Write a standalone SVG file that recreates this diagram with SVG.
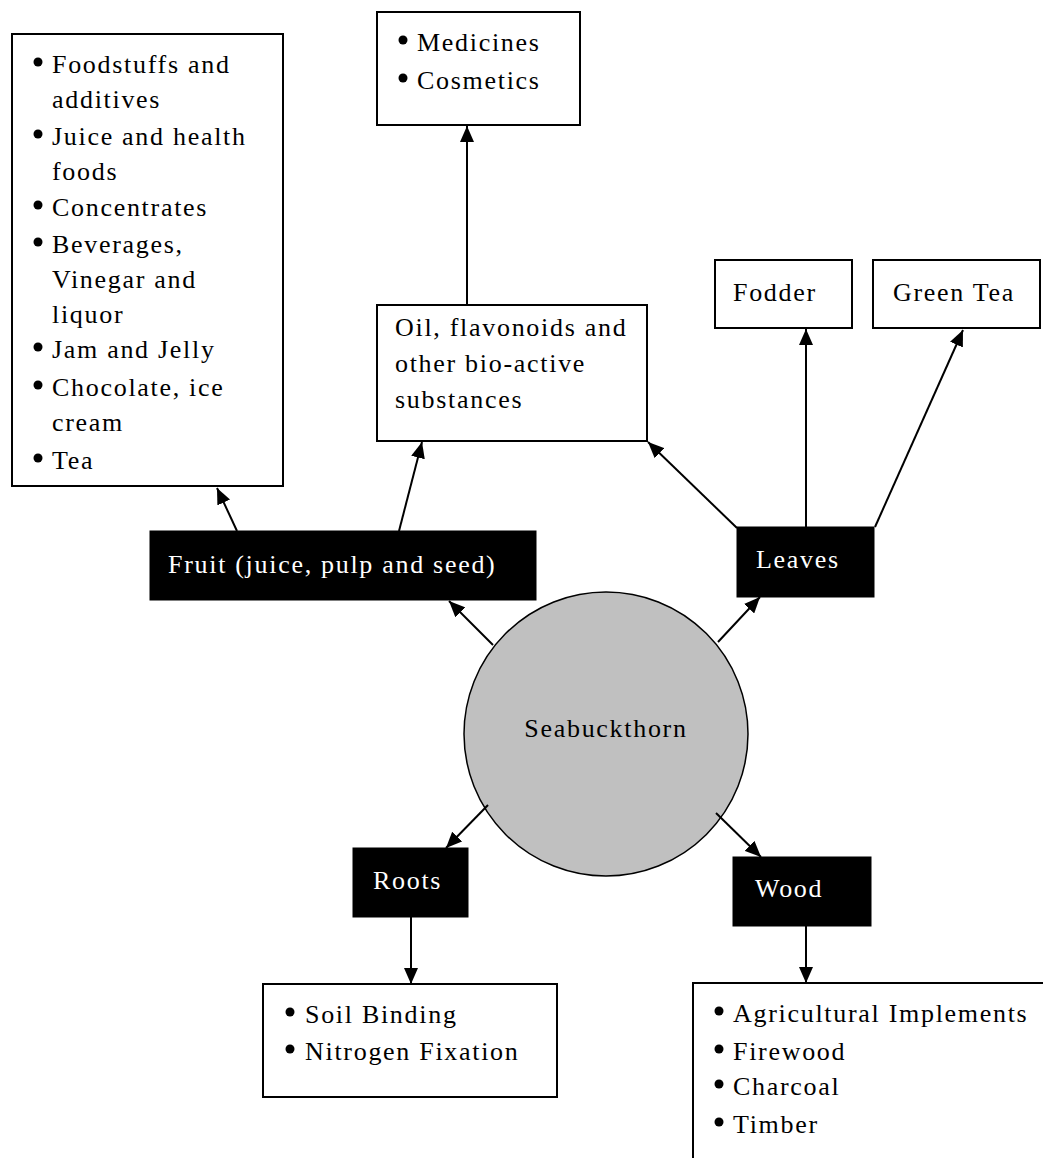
<svg xmlns="http://www.w3.org/2000/svg" width="1043" height="1158" viewBox="0 0 1043 1158">
<defs>
<marker id="arr" markerUnits="userSpaceOnUse" markerWidth="16" markerHeight="14" viewBox="0 0 16 14" refX="16" refY="7" orient="auto">
<path d="M0,0 L16,7 L0,14 Z" fill="#000"/>
</marker>
<style>
.box{fill:#fff;stroke:#000;stroke-width:2}
.dark{fill:#000;stroke:#000;stroke-width:1}
.t{font-family:"Liberation Serif","Times New Roman",serif;font-size:26px;letter-spacing:1.7px;fill:#000}
.w{fill:#fff}
.conn line{stroke:#000;stroke-width:2;marker-end:url(#arr)}
.b{fill:#000}
</style>
</defs>
<rect width="1043" height="1158" fill="#fff"/>

<g id="fruit-uses">
<rect class="box" x="12" y="34" width="271" height="452"/>
<circle class="b" cx="38" cy="62" r="4.5"/>
<text class="t" x="52" y="73">Foodstuffs and</text>
<text class="t" x="52" y="108">additives</text>
<circle class="b" cx="38" cy="134" r="4.5"/>
<text class="t" x="52" y="145">Juice and health</text>
<text class="t" x="52" y="180">foods</text>
<circle class="b" cx="38" cy="205" r="4.5"/>
<text class="t" x="52" y="216">Concentrates</text>
<circle class="b" cx="38" cy="242" r="4.5"/>
<text class="t" x="52" y="253">Beverages,</text>
<text class="t" x="52" y="288">Vinegar and</text>
<text class="t" x="52" y="323">liquor</text>
<circle class="b" cx="38" cy="347" r="4.5"/>
<text class="t" x="52" y="358">Jam and Jelly</text>
<circle class="b" cx="38" cy="385" r="4.5"/>
<text class="t" x="52" y="396">Chocolate, ice</text>
<text class="t" x="52" y="431">cream</text>
<circle class="b" cx="38" cy="458" r="4.5"/>
<text class="t" x="52" y="469">Tea</text>
</g>

<g id="medicines">
<rect class="box" x="377" y="12" width="203" height="113"/>
<circle class="b" cx="403" cy="40" r="4.5"/>
<text class="t" x="417" y="51">Medicines</text>
<circle class="b" cx="403" cy="78" r="4.5"/>
<text class="t" x="417" y="89">Cosmetics</text>
</g>

<g id="oil">
<rect class="box" x="377" y="305" width="270" height="136"/>
<text class="t" x="395" y="336">Oil, flavonoids and</text>
<text class="t" x="395" y="372">other bio-active</text>
<text class="t" x="395" y="408">substances</text>
</g>

<g id="fodder">
<rect class="box" x="715" y="260" width="137" height="68"/>
<text class="t" x="733" y="301">Fodder</text>
</g>

<g id="green-tea">
<rect class="box" x="873" y="260" width="167" height="68"/>
<text class="t" x="893" y="301">Green Tea</text>
</g>

<g id="fruit">
<rect class="dark" x="150" y="531" width="386" height="69"/>
<text class="t w" x="168" y="573">Fruit (juice, pulp and seed)</text>
</g>

<g id="leaves">
<rect class="dark" x="737" y="527" width="137" height="70"/>
<text class="t w" x="756" y="568">Leaves</text>
</g>

<g id="seabuckthorn">
<circle cx="606" cy="734" r="142" fill="#c0c0c0" stroke="#000" stroke-width="1.5"/>
<text class="t" x="606" y="737" text-anchor="middle">Seabuckthorn</text>
</g>

<g id="roots">
<rect class="dark" x="353" y="848" width="115" height="69"/>
<text class="t w" x="373" y="889">Roots</text>
</g>

<g id="wood">
<rect class="dark" x="733" y="857" width="138" height="69"/>
<text class="t w" x="755" y="897">Wood</text>
</g>

<g id="root-uses">
<rect class="box" x="263" y="984" width="294" height="113"/>
<circle class="b" cx="290" cy="1012" r="4.5"/>
<text class="t" x="305" y="1023">Soil Binding</text>
<circle class="b" cx="290" cy="1049" r="4.5"/>
<text class="t" x="305" y="1060">Nitrogen Fixation</text>
</g>

<g id="wood-uses">
<rect class="box" x="693" y="983" width="360" height="190"/>
<circle class="b" cx="719" cy="1011" r="4.5"/>
<text class="t" x="733" y="1022">Agricultural Implements</text>
<circle class="b" cx="719" cy="1049" r="4.5"/>
<text class="t" x="733" y="1060">Firewood</text>
<circle class="b" cx="719" cy="1084" r="4.5"/>
<text class="t" x="733" y="1095">Charcoal</text>
<circle class="b" cx="719" cy="1122" r="4.5"/>
<text class="t" x="733" y="1133">Timber</text>
</g>

<g id="connectors" class="conn">
<line x1="467" y1="305" x2="467" y2="126"/>
<line x1="237" y1="531" x2="217" y2="488"/>
<line x1="399" y1="531" x2="422" y2="442"/>
<line x1="737" y1="528" x2="648" y2="442"/>
<line x1="806" y1="527" x2="806" y2="329"/>
<line x1="875" y1="527" x2="963" y2="330"/>
<line x1="493" y1="645" x2="449" y2="601"/>
<line x1="718" y1="642" x2="760" y2="597"/>
<line x1="488" y1="805" x2="446" y2="848"/>
<line x1="716" y1="813" x2="761" y2="857"/>
<line x1="411" y1="917" x2="411" y2="984"/>
<line x1="806" y1="926" x2="806" y2="983"/>
</g>
</svg>
